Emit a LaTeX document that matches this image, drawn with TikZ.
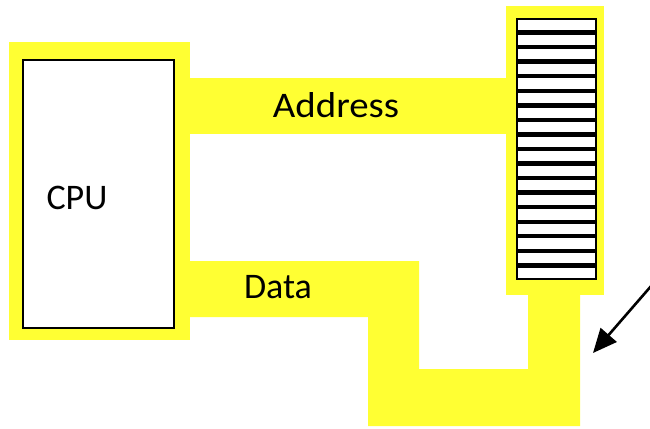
\documentclass[tikz,border=0pt]{standalone}
\usepackage{fontspec}
\setmainfont{Carlito}
\usetikzlibrary{arrows.meta}
\definecolor{busyellow}{RGB}{255,255,51}
\tikzset{
  bus/.style={fill=busyellow, draw=none},
  cell/.style={draw=black, line width=2.2pt, fill=white},
  lbl/.style={font=\fontsize{36}{40}\selectfont, text=black, anchor=base, inner sep=0pt},
  pointer/.style={draw=black, line width=2.6pt, -{Triangle[length=24pt,width=21pt]}}
}
\begin{document}
\begin{tikzpicture}[x=1pt,y=-1pt]
\useasboundingbox (0,0) rectangle (650,428);
% yellow bus areas
\fill[bus] (9,42) rectangle (190,340);
\fill[bus] (189,78) rectangle (507,134);
\fill[bus] (506,6) rectangle (604,295);
\fill[bus] (189,261) -- (419,261) -- (419,369) -- (528,369) -- (528,294) -- (580,294) -- (580,426) -- (368,426) -- (368,317) -- (189,317) -- cycle;
% CPU box
\node[draw=black, line width=1.6pt, fill=white, minimum width=151pt, minimum height=268pt, anchor=north west, inner sep=0pt] (cpu) at (22,59) {};
\node[lbl] (cputxt) at (77,209) {CPU};
% labels
\node[lbl, xscale=1.08] (addr) at (336,117) {Address};
\node[lbl] (data) at (278,298) {Data};
% memory cells
\foreach \i in {0,...,17}{
  \node[cell, minimum width=79pt, minimum height=12.4pt, inner sep=0pt, anchor=north west] (m\i) at (516,{18+\i*14.55}) {};
}
% pointer arrow
\coordinate (ps) at (652,285);
\coordinate (pe) at (593,353);
\draw[pointer] (ps) -- (pe);
\end{tikzpicture}
\end{document}
